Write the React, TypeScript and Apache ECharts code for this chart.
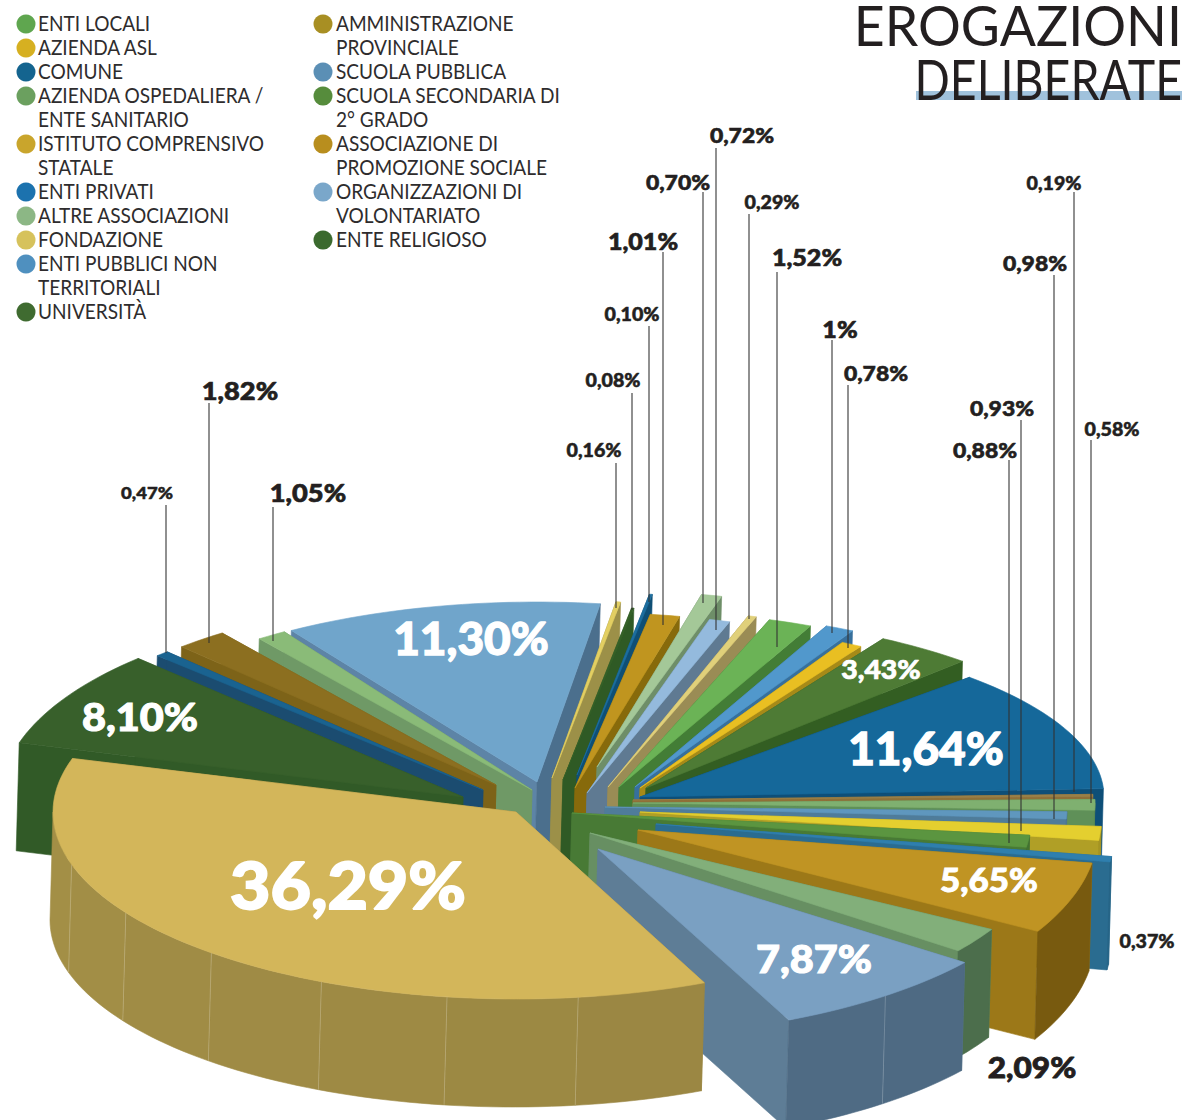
import React, { useEffect, useRef } from "react";
import * as echarts from "echarts";

// ---------- data, clockwise from the top of the pie ----------
const shareValues = [0.16, 0.08, 0.1, 1.01, 0.7, 0.72, 0.29, 1.52, 1, 0.78, 3.43, 11.64, 0.19, 0.98, 0.58, 0.93, 0.88, 0.37, 5.65, 2.09, 7.87, 36.29, 8.1, 0.47, 1.82, 1.05, 11.3];
const legendLeft = [
  ["ENTI LOCALI"], ["AZIENDA ASL"], ["COMUNE"], ["AZIENDA OSPEDALIERA /", "ENTE SANITARIO"], ["ISTITUTO COMPRENSIVO", "STATALE"],
  ["ENTI PRIVATI"], ["ALTRE ASSOCIAZIONI"], ["FONDAZIONE"], ["ENTI PUBBLICI NON", "TERRITORIALI"], ["UNIVERSITÀ"],
];
const legendRight = [
  ["AMMINISTRAZIONE", "PROVINCIALE"], ["SCUOLA PUBBLICA"], ["SCUOLA SECONDARIA DI", "2° GRADO"], ["ASSOCIAZIONE DI", "PROMOZIONE SOCIALE"], ["ORGANIZZAZIONI DI", "VOLONTARIATO"], ["ENTE RELIGIOSO"],
];
const titleLines = ["EROGAZIONI", "DELIBERATE"];

// ---------- styles and layout ----------
const legendLeftColors = ["#5FA64F", "#D6B021", "#14648F", "#6BA05F", "#C9A52C", "#1C72AE", "#8CB785", "#D6C25C", "#4F90BF", "#3F6B30"];
const legendRightColors = ["#A88F23", "#5B8FB5", "#568C3C", "#B88E1E", "#7AA7CA", "#3B6A2E"];
const topColors = ["#E3CF62", "#356128", "#1C6E9F", "#C0951F", "#A4C898", "#94BADD", "#E0D07A", "#6BB356", "#5198CC", "#E9BF22", "#4E7B35", "#15689A", "#9A8048", "#7FB070", "#5F97BE", "#E4CF2F", "#5B9540", "#2F7FAE", "#C09423", "#82AF7A", "#7AA0C2", "#D3B65A", "#38602B", "#1A6390", "#8C6F20", "#8ABB78", "#70A5CB"];
const cutColors = ["#9C9048", "#2F5A25", "#0F4F75", "#876A0B", "#6E8E68", "#5F7A92", "#9A8C55", "#437D36", "#37709C", "#A68A18", "#335E22", "#0E4F78", "#8F7038", "#5F9058", "#4F7C9A", "#B09F26", "#487A35", "#2A6C90", "#9C7818", "#678F62", "#5E7D96", "#A08C45", "#315A27", "#1B4C70", "#7D6318", "#6F9966", "#4B6F8D"];
const wallColors = ["#9C9048", "#2F5A25", "#0F4F75", "#876A0B", "#6E8E68", "#5F7A92", "#9A8C55", "#437D36", "#37709C", "#A68A18", "#335E22", "#0E4F78", "#8F7038", "#5F9058", "#4F7C9A", "#B09F26", "#487A35", "#2A6C90", "#806010", "#507450", "#52708A", "#A08C45", "#315A27", "#1B4C70", "#7D6318", "#6F9966", "#4B6F8D"];
const leftCutColors: Record<number, string> = { 26: "#5D84A6" };

const CX = 560, CY = 800, DEPTH = 108, SHIFT_X = -3;
// explode offset x, y from the pie centre, radii x, y, start-angle shift
const sliceLayout = [
  [-8, -22, 460, 178, 8], [3, -20, 460, 174, 8], [17, -25, 470, 183, 8], [15, -12, 470, 176, 8], [37, -33, 470, 177, 8], [27, -7, 462, 180, 8],
  [48, -13, 455, 180, 8], [59, -13, 462, 177, 8], [75, -13, 462, 177, 8], [80, -12, 430, 165, 8], [86, -12, 462, 174, 8], [80, -3, 464, 170, 10],
  [73, 0, 460, 176, 11], [73, 3, 462, 176, 11], [45, 7, 462, 200, 10], [80, 12, 462, 240, 10], [12, 13, 460, 220, 9], [96, 24, 460, 235, 8],
  [78, 30, 460, 205, 8], [30, 33, 462, 195, 8], [38, 49, 460, 188, 8], [-44, 12, 463, 187, 8.5], [-97, -3, 462, 195, 8], [-77, -10, 463, 189, 8],
  [-64, -15, 461, 189, 8], [-28, -10, 459, 188, 8], [-23, -18, 455, 180, 8],
];
const drawOrder = [26, 25, 24, 23, 22, 0, 1, 2, 3, 4, 5, 6, 7, 8, 9, 10, 11, 12, 13, 14, 15, 16, 17, 18, 19, 20, 21];

// label centre x, y, font size, colour; optional leader x, y1, y2
const labelLayout: (number | string)[][] = [
  [594, 451, 18, "#231F20", 616, 463, 608], [613, 381, 18, "#231F20", 632, 393, 610], [632, 315, 18, "#231F20", 649, 326, 602], [643, 242, 23, "#231F20", 663, 252, 625],
  [678, 183, 21, "#231F20", 703, 192, 603], [742, 136, 21, "#231F20", 716, 148, 630], [772, 203, 18, "#231F20", 749, 214, 619], [807, 258, 23, "#231F20", 777, 272, 647],
  [840, 330, 23, "#231F20", 832, 340, 633], [876, 374, 21, "#231F20", 848, 385, 648], [881, 670, 26, "#FFFFFF"], [926, 748, 46, "#FFFFFF"],
  [1054, 184, 18, "#231F20", 1074, 192, 792], [1035, 264, 21, "#231F20", 1054, 275, 819], [1112, 430, 18, "#231F20", 1091, 440, 803], [1002, 409, 21, "#231F20", 1021, 420, 831],
  [985, 451, 21, "#231F20", 1009, 460, 843], [1147, 942, 18, "#231F20"], [989, 881, 32, "#FFFFFF"], [1032, 1068, 29, "#231F20"], [814, 959, 38, "#FFFFFF"],
  [348, 885, 64, "#FFFFFF"], [140, 717, 38, "#FFFFFF"], [147, 493, 17, "#231F20", 166, 505, 653], [240, 391, 25, "#231F20", 209, 403, 643], [308, 493, 25, "#231F20", 273, 507, 641],
  [471, 638, 46, "#FFFFFF"],
];

const LABEL_FONT = "Lato";
const cumulative: number[] = [];
shareValues.reduce((sum, v, i) => { cumulative[i] = sum; return sum + v; }, 0);
const shareTotal = shareValues.reduce((a, b) => a + b, 0);
const formatShare = (v: number) => (Number.isInteger(v) ? `${v}%` : `${v.toFixed(2).replace(".", ",")}%`);

function shade(hex: string, f: number) {
  const n = parseInt(hex.slice(1), 16);
  const c = [(n >> 16) & 255, (n >> 8) & 255, n & 255].map((x) => Math.min(255, Math.round(x * f)));
  return `rgb(${c[0]},${c[1]},${c[2]})`;
}

function renderSlice(_: any, api: any) {
  const i = api.value(0) as number;
  const value = api.value(1) as number;
  const start = api.value(2) as number;
  const [ox, oy, rx, ry, rot] = sliceLayout[i];
  const ax = CX + ox, ay = CY + oy;
  const a1 = (start / shareTotal) * 360 + rot;
  const a2 = ((start + value) / shareTotal) * 360 + rot;
  const pt = (deg: number) => {
    const t = (deg * Math.PI) / 180;
    return [ax + rx * Math.sin(t), ay - ry * Math.cos(t)];
  };
  const down = (p: number[]) => [p[0] + SHIFT_X, p[1] + DEPTH];
  const arc = (from: number, to: number) => {
    const n = Math.max(2, Math.ceil((to - from) / 1.5));
    const out: number[][] = [];
    for (let k = 0; k <= n; k++) out.push(pt(from + ((to - from) * k) / n));
    return out;
  };
  const apex = [ax, ay];
  const tip1 = pt(a1), tip2 = pt(a2);
  const children: any[] = [];
  const poly = (points: number[][], fill: string) =>
    children.push({ type: "polygon", shape: { points }, style: { fill, stroke: fill, lineWidth: 0.6 } });
  poly([apex, tip1, down(tip1), down(apex)], leftCutColors[i] || cutColors[i]);
  poly([apex, tip2, down(tip2), down(apex)], cutColors[i]);
  const w1 = Math.max(a1, 90), w2 = Math.min(a2, 270);
  if (w2 > w1) {
    const count = Math.max(1, Math.round((w2 - w1) / 16));
    for (let f = 0; f < count; f++) {
      const b1 = w1 + ((w2 - w1) * f) / count, b2 = w1 + ((w2 - w1) * (f + 1)) / count;
      const line = arc(b1, b2);
      const tone = 0.93 + 0.1 * ((b1 - 90) / 180);
      poly([...line, ...line.slice().reverse().map(down)], shade(wallColors[i], tone));
      if (f > 0) {
        const p = pt(b1);
        children.push({ type: "line", shape: { x1: p[0], y1: p[1], x2: down(p)[0], y2: down(p)[1] }, style: { stroke: "rgba(255,255,255,0.2)", lineWidth: 1 } });
      }
    }
  }
  poly([apex, ...arc(a1, a2)], topColors[i]);
  return { type: "group", children };
}

function buildGraphic() {
  const els: any[] = [];
  els.push({ type: "rect", z: 50, shape: { x: 916, y: 91, width: 266, height: 9 }, style: { fill: "#A0C2DC" } });
  const titleScale = [0.957, 0.83];
  titleLines.forEach((t, i) =>
    els.push({ type: "text", z: 51, x: 1182, y: i === 0 ? 25 : 78, scaleX: titleScale[i], style: { text: t, fill: "#231F20", font: '400 56px "Lato"', textAlign: "right", textVerticalAlign: "middle" } })
  );
  const legendCol = (rows: string[][], colors: string[], cx: number, tx: number) => {
    let y = 24;
    rows.forEach((lines, i) => {
      els.push({ type: "circle", z: 50, shape: { cx, cy: y, r: 9.5 }, style: { fill: colors[i] } });
      lines.forEach((line) => {
        els.push({ type: "text", z: 50, x: tx, y: y - 1.5, scaleX: 0.93, style: { text: line, fill: "#2E2C2D", font: '400 20.5px "Lato"', textAlign: "left", textVerticalAlign: "middle" } });
        y += 24;
      });
    });
  };
  legendCol(legendLeft, legendLeftColors, 26, 38);
  legendCol(legendRight, legendRightColors, 323, 336);
  shareValues.forEach((v, i) => {
    const l = labelLayout[i] as any[];
    if (l.length > 4) {
      els.push({ type: "line", z: 60, shape: { x1: l[4], y1: l[5], x2: l[4], y2: l[6] }, style: { stroke: "rgba(50,50,50,0.72)", lineWidth: 1.5 } });
    }
    const text = formatShare(v);
    els.push({
      type: "text", z: 61, x: l[0], y: l[1] - 1, scaleX: text.startsWith("11") ? 1 : 1.09,
      style: { text, fill: l[3], stroke: l[3], lineWidth: l[2] * 0.028, font: `900 ${l[2]}px "${LABEL_FONT}"`, textAlign: "center", textVerticalAlign: "middle" },
    });
  });
  return els;
}

export default function App() {
  const ref = useRef<HTMLDivElement>(null);
  useEffect(() => {
    document.body.style.margin = "0";
    document.body.style.background = "#fff";
    const chart = echarts.init(ref.current!, null, { renderer: "svg" });
    chart.setOption({
      animation: false,
      backgroundColor: "#FFFFFF",
      graphic: { elements: buildGraphic() },
      series: [
        {
          type: "custom",
          coordinateSystem: "none",
          silent: true,
          renderItem: renderSlice,
          data: drawOrder.map((i) => [i, shareValues[i], cumulative[i]]),
        },
      ],
    });
    return () => chart.dispose();
  }, []);
  return <div ref={ref} style={{ width: 1182, height: 1120, overflow: "hidden" }} />;
}
